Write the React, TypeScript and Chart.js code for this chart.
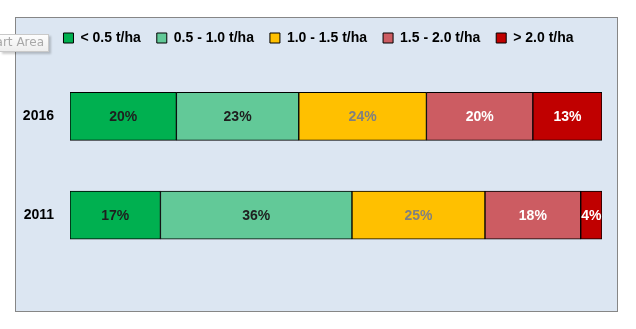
import React, { useEffect, useRef } from "react";
import { Chart, registerables } from "chart.js";

Chart.register(...registerables);

const categories = ["2016", "2011"];
const seriesNames = ["< 0.5 t/ha", "0.5 - 1.0 t/ha", "1.0 - 1.5 t/ha", "1.5 - 2.0 t/ha", "> 2.0 t/ha"];
const below05 = [20, 17];
const from05to10 = [23, 36];
const from10to15 = [24, 25];
const from15to20 = [20, 18];
const above20 = [13, 4];

const seriesValues = [below05, from05to10, from10to15, from15to20, above20];
const fillColors = ["#00B050", "#62C998", "#FFC000", "#CC5C62", "#C00000"];
const labelColors = ["#1E1E1E", "#1E1E1E", "#808080", "#FFFFFF", "#FFFFFF"];

const FONT = "'Liberation Sans', Arial, sans-serif";

const valueLabels = {
  id: "valueLabels",
  afterDatasetsDraw(chart: any) {
    const ctx = chart.ctx;
    ctx.save();
    ctx.font = `bold 14px ${FONT}`;
    ctx.textAlign = "center";
    ctx.textBaseline = "middle";
    chart.data.datasets.forEach((ds: any, di: number) => {
      const meta = chart.getDatasetMeta(di);
      meta.data.forEach((el: any, i: number) => {
        const p = el.getCenterPoint();
        ctx.fillStyle = labelColors[di];
        ctx.fillText(`${ds.data[i]}%`, p.x, p.y + 1);
      });
    });
    ctx.restore();
  },
};

const legendGap = {
  id: "legendGap",
  beforeInit(chart: any) {
    const legend = chart.legend;
    if (!legend) return;
    const orig = legend.fit;
    legend.fit = function () {
      orig.call(this);
      this.height += 12;
    };
  },
  afterLayout(chart: any) {
    const legend = chart.legend;
    if (!legend) return;
    legend.left = 35;
    legend.width = legend.right - legend.left;
  },
};

export default function App() {
  const ref = useRef<HTMLCanvasElement | null>(null);

  useEffect(() => {
    if (!ref.current) return;
    const chart = new Chart(ref.current, {
      type: "bar",
      data: {
        labels: categories,
        datasets: seriesValues.map((vals, i) => ({
          label: seriesNames[i],
          data: vals,
          backgroundColor: fillColors[i],
          borderColor: "#000000",
          borderWidth: 1,
          borderSkipped: false,
          barThickness: 48,
        })),
      },
      options: {
        indexAxis: "y",
        responsive: false,
        animation: false,
        devicePixelRatio: 1,
        layout: { padding: { left: 0, right: 34, top: 15, bottom: 64.5 } },
        scales: {
          x: { stacked: true, min: 0, max: 100, display: false },
          y: {
            stacked: true,
            grid: { display: false, drawTicks: false },
            border: { display: false },
            ticks: { color: "#000000", font: { family: FONT, size: 14, weight: "bold" }, padding: 16 },
            afterFit(scale: any) {
              scale.width = 70;
            },
          },
        },
        plugins: {
          legend: {
            display: true,
            position: "top",
            labels: {
              boxWidth: 10,
              boxHeight: 10,
              padding: 16,
              color: "#000000",
              font: { family: FONT, size: 14, weight: "bold" },
            },
          },
          tooltip: { enabled: false },
        },
      },
      plugins: [valueLabels, legendGap],
    });
    return () => chart.destroy();
  }, []);

  return (
    <div style={{ position: "absolute", left: 0, top: 0, width: 636, height: 329, background: "#FFFFFF", overflow: "hidden" }}>
      <div
        style={{
          position: "absolute",
          left: 15,
          top: 17,
          width: 601,
          height: 293,
          background: "#DCE6F2",
          border: "1px solid #868686",
        }}
      />
      <canvas ref={ref} width={636} height={329} style={{ position: "absolute", left: 0, top: 0 }} />
      <div
        style={{
          position: "absolute",
          left: 0,
          top: 34,
          width: 48,
          height: 16,
          overflow: "hidden",
          background: "linear-gradient(#FDFDFD, #EEEEEE)",
          border: "1px solid #C9C9C9",
          borderLeft: "none",
          boxShadow: "2px 2px 2px rgba(0,0,0,0.2)",
        }}
      >
        <span
          style={{
            position: "absolute",
            right: 4,
            top: 0,
            whiteSpace: "nowrap",
            fontFamily: "'DejaVu Sans', sans-serif",
            fontSize: 12,
            color: "#A8A8A8",
          }}
        >
          Chart Area
        </span>
      </div>
    </div>
  );
}
